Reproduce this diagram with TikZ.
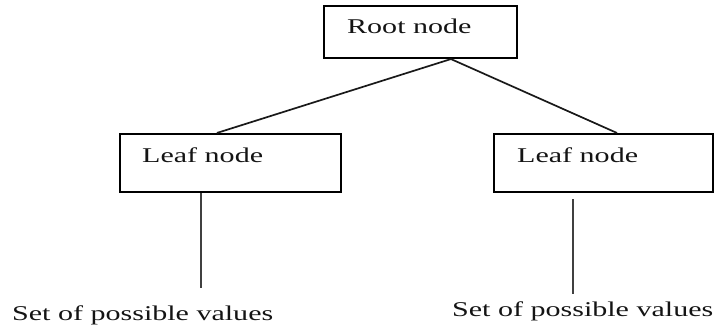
\documentclass[tikz,border=0pt]{standalone}
\usepackage{fontspec}
\newfontfamily\widefont{Liberation Serif}[FakeStretch=1.43]
\begin{document}
\begin{tikzpicture}[x=1pt,y=-1pt,
  box/.style={draw=black, line width=2.1pt, rectangle, inner sep=0pt},
  lbl/.style={anchor=base west, inner sep=0pt, text=black!92,
    font=\widefont\fontsize{21}{24}\selectfont},
  branch/.style={draw=black!90, line width=1.7pt},
  stem/.style={draw=black!75, line width=2.8pt}]
\useasboundingbox (0,0) rectangle (720,327);

% boxes
\node[box, minimum width=193pt, minimum height=52pt] (root) at (420.5,32) {};
\node[box, minimum width=221pt, minimum height=58pt] (leafL) at (230.5,163) {};
\node[box, minimum width=219pt, minimum height=58pt] (leafR) at (603.5,163) {};

% box captions
\node[lbl] (rootTxt) at (347,33) {Root node};
\node[lbl] (leafLTxt) at (142,162) {Leaf node};
\node[lbl] (leafRTxt) at (517,162) {Leaf node};

% value captions
\node[lbl] (valL) at (12,320) {Set of possible values};
\node[lbl] (valR) at (452,316) {Set of possible values};

% attachment points
\path (root.south west) ++(128,0) coordinate (apex);
\path (leafL.north west) ++(98,0) coordinate (inL);
\path (leafR.north west) ++(124,0) coordinate (inR);
\path (leafL.south west) ++(82,0) coordinate (outL);
\path (leafR.south west) ++(80,6) coordinate (outR);
\path (outL) ++(0,95) coordinate (endL);
\path (outR) ++(0,95) coordinate (endR);

% connectors
\draw[branch] (apex) -- (inL);
\draw[branch] (apex) -- (inR);
\draw[stem] (outL) -- (endL);
\draw[stem] (outR) -- (endR);
\end{tikzpicture}
\end{document}
